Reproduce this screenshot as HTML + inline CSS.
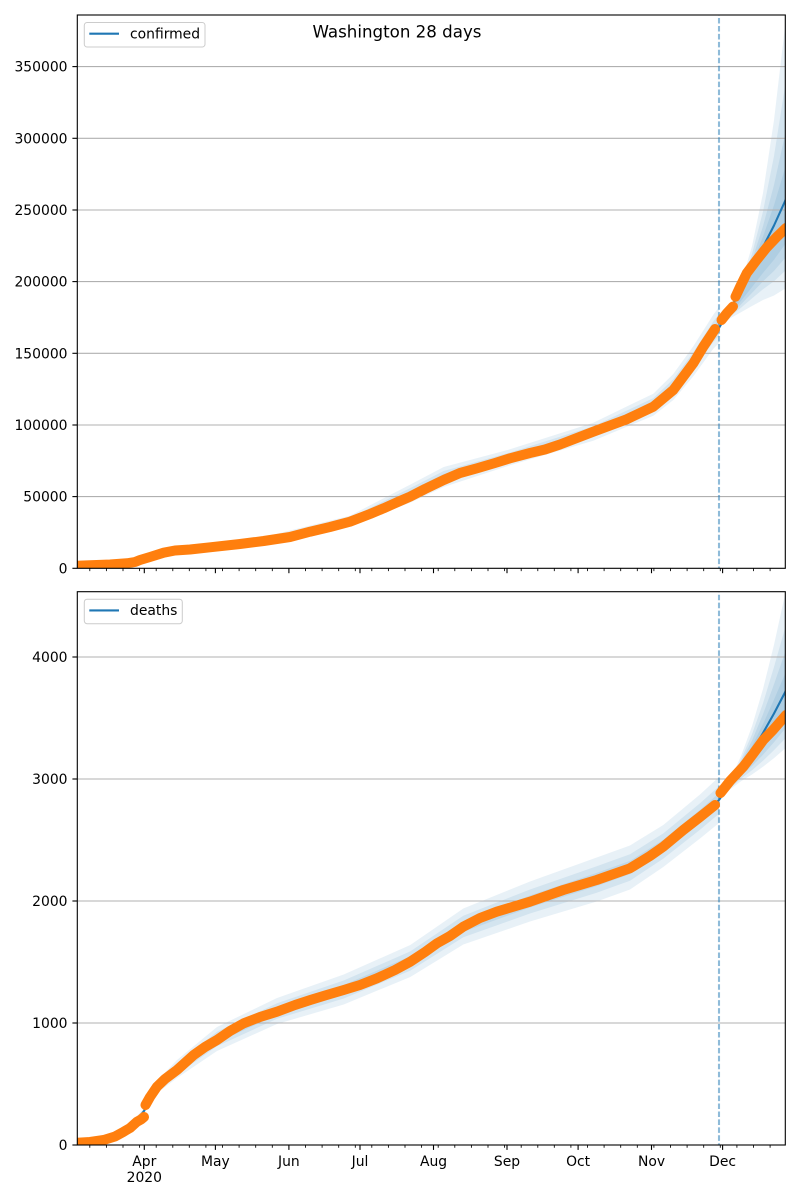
<!DOCTYPE html>
<html><head><meta charset="utf-8"><style>
html,body{margin:0;padding:0;background:#fff;}
svg{display:block;}
text{font-family:"DejaVu Sans","Liberation Sans",sans-serif;fill:#000;}
</style></head><body>
<svg width="800" height="1200" viewBox="0 0 800 1200" xmlns="http://www.w3.org/2000/svg">
<defs>
<clipPath id="c1"><rect x="77.3" y="15" width="708" height="553.3"/></clipPath>
<clipPath id="c2"><rect x="77.3" y="591.7" width="708" height="553.3"/></clipPath>
</defs>
<rect width="800" height="1200" fill="#fff"/>

<!-- ================= TOP AXES ================= -->
<g clip-path="url(#c1)">
 <g fill="#1f77b4" fill-opacity="0.1" stroke="none">
  <polygon points="77,563.7 140,557 163.7,549.7 263.7,537 350,515.7 410,484.7 443.7,467 510,449.3 593.3,422.7 653.3,393.7 673.3,374 693.3,346.3 713.3,314.7 719,307 719,343 713.3,348.7 693.3,376.3 673.3,400 653.3,415.7 593.3,440.7 510,465.3 443.7,487 410,502.7 350,525.7 263.7,545 163.7,555.7 140,563 77,567.7"/>
  <polygon points="77,564.5 140,558.2 163.7,550.9 263.7,538.6 350,517.7 410,488.3 443.7,471 510,452.5 593.3,426.3 653.3,398.1 673.3,379.2 693.3,352.3 713.3,321.5 719,314.2 719,335.8 713.3,341.9 693.3,370.3 673.3,394.8 653.3,411.3 593.3,437.1 510,462.1 443.7,483 410,499.1 350,523.7 263.7,543.4 163.7,554.5 140,561.8 77,566.9"/>
  <polygon points="77,565.1 140,559.1 163.7,551.8 263.7,539.8 350,519.2 410,491 443.7,474 510,454.9 593.3,429 653.3,401.4 673.3,383.1 693.3,356.8 713.3,326.6 719,319.6 719,330.4 713.3,336.8 693.3,365.8 673.3,390.9 653.3,408 593.3,434.4 510,459.7 443.7,480 410,496.4 350,522.2 263.7,542.2 163.7,553.6 140,560.9 77,566.3"/>
  <polygon points="719,328 730,308.2 741,283.3 752,246.2 763,193.1 774,120.1 786,18 786,288 774,295.5 763,300 752,306 741,312.3 730,318.4"/>
  <polygon points="719,328 730,308.4 741,285.6 752,254 763,211.5 774,156 786,80 786,270 774,281.2 763,289.2 752,298.4 741,307.7 730,316.5"/>
  <polygon points="719,328 730,308.7 741,287.4 752,260.2 763,226.3 774,185 786,130 786,257 774,270.9 763,281.4 752,292.9 741,304.4 730,315.1"/>
  <polygon points="719,328 730,308.8 741,288.7 752,264.6 763,236.6 774,205.2 786,165 786,243 774,259.7 763,272.9 752,287.1 741,300.9 730,313.6"/>
 </g>
 <g stroke="#b0b0b0" stroke-width="1.1">
  <line x1="77.3" x2="785.3" y1="496.6" y2="496.6"/>
  <line x1="77.3" x2="785.3" y1="425" y2="425"/>
  <line x1="77.3" x2="785.3" y1="353.3" y2="353.3"/>
  <line x1="77.3" x2="785.3" y1="281.6" y2="281.6"/>
  <line x1="77.3" x2="785.3" y1="210" y2="210"/>
  <line x1="77.3" x2="785.3" y1="138.3" y2="138.3"/>
  <line x1="77.3" x2="785.3" y1="66.6" y2="66.6"/>
 </g>
 <polyline fill="none" stroke="#1f77b4" stroke-width="2.1" stroke-linejoin="round" points="77,565.7 140,560 163.7,552.7 210,547.3 263.7,541 310,531.7 350,520.7 383.7,506.3 410,493.7 443.7,477 477,466.3 510,457.3 557,446.7 593.3,431.7 626.7,418.3 653.3,404.7 673.3,387 693.3,361.3 703.3,345.7 713.3,331.7 719,328 730,309 741,290 752,269 763,247 774,225.5 786,199"/>
 <line x1="719" x2="719" y1="15" y2="568.3" stroke="#1f77b4" stroke-opacity="0.5" stroke-width="2.1" stroke-dasharray="5.55 2.4" stroke-dashoffset="-3"/>
 <g fill="none" stroke="#ff7f0e" stroke-width="10" stroke-linecap="round" stroke-linejoin="round">
  <polyline points="77,565.7 90,565.3 110,564.5 127,563.3 135,562 140,560 150,557 163.7,552.7 175,550.5 190,549.5 210,547.3 240,544 263.7,541 290,537 310,531.7 330,527 350,521.7 370,514 383.7,508.3 400,501 410,496.7 425,489 443.7,480 460,473 477,468.3 495,463 510,458.3 530,453 545,449.5 560,444.5 593.3,431.7 626.7,419.3 653.3,406.7 673.3,390 693.3,363.3 703.3,346.7 713.3,331.7 715,329"/>
  <polyline points="721.5,320 727,313 733,306.5"/>
  <polyline points="735.5,296.7 740,287 746.7,273.3 756.7,260 766.7,247.5 776.7,237 786,228"/>
 </g>
</g>
<rect x="77.3" y="15" width="708" height="553.3" fill="none" stroke="#000" stroke-width="1.1"/>
<g stroke="#000" stroke-width="1.1">
 <line x1="72.4" x2="77.3" y1="568.3" y2="568.3"/>
 <line x1="72.4" x2="77.3" y1="496.6" y2="496.6"/>
 <line x1="72.4" x2="77.3" y1="425" y2="425"/>
 <line x1="72.4" x2="77.3" y1="353.3" y2="353.3"/>
 <line x1="72.4" x2="77.3" y1="281.6" y2="281.6"/>
 <line x1="72.4" x2="77.3" y1="210" y2="210"/>
 <line x1="72.4" x2="77.3" y1="138.3" y2="138.3"/>
 <line x1="72.4" x2="77.3" y1="66.6" y2="66.6"/>
</g>
<g font-size="13.9" text-anchor="end">
 <text x="67.5" y="573.3">0</text>
 <text x="67.5" y="501.6">50000</text>
 <text x="67.5" y="430">100000</text>
 <text x="67.5" y="358.3">150000</text>
 <text x="67.5" y="286.6">200000</text>
 <text x="67.5" y="215">250000</text>
 <text x="67.5" y="143.3">300000</text>
 <text x="67.5" y="71.6">350000</text>
</g>
<g stroke="#000" stroke-width="1.1">
 <line x1="144.3" x2="144.3" y1="568.3" y2="573.2"/>
 <line x1="215.4" x2="215.4" y1="568.3" y2="573.2"/>
 <line x1="288.9" x2="288.9" y1="568.3" y2="573.2"/>
 <line x1="360" x2="360" y1="568.3" y2="573.2"/>
 <line x1="433.5" x2="433.5" y1="568.3" y2="573.2"/>
 <line x1="507" x2="507" y1="568.3" y2="573.2"/>
 <line x1="578.1" x2="578.1" y1="568.3" y2="573.2"/>
 <line x1="651.5" x2="651.5" y1="568.3" y2="573.2"/>
 <line x1="722.6" x2="722.6" y1="568.3" y2="573.2"/>
</g>
<path stroke="#000" stroke-width="0.85" fill="none" d="M89.8 568.3v2.8M106.4 568.3v2.8M123 568.3v2.8M139.6 568.3v2.8M156.2 568.3v2.8M172.8 568.3v2.8M189.3 568.3v2.8M205.9 568.3v2.8M222.5 568.3v2.8M239.1 568.3v2.8M255.7 568.3v2.8M272.3 568.3v2.8M305.5 568.3v2.8M322.1 568.3v2.8M338.7 568.3v2.8M355.3 568.3v2.8M371.8 568.3v2.8M388.4 568.3v2.8M405 568.3v2.8M421.6 568.3v2.8M438.2 568.3v2.8M454.8 568.3v2.8M471.4 568.3v2.8M488 568.3v2.8M504.6 568.3v2.8M521.2 568.3v2.8M537.8 568.3v2.8M554.3 568.3v2.8M570.9 568.3v2.8M587.5 568.3v2.8M604.1 568.3v2.8M620.7 568.3v2.8M637.3 568.3v2.8M653.9 568.3v2.8M670.5 568.3v2.8M687.1 568.3v2.8M703.7 568.3v2.8M720.3 568.3v2.8M736.9 568.3v2.8M753.5 568.3v2.8M770.1 568.3v2.8"/>
<rect x="84.3" y="22.5" width="120.7" height="24.5" rx="2.8" fill="#fff" fill-opacity="0.8" stroke="#cccccc" stroke-width="1"/>
<line x1="89.3" x2="119" y1="33.7" y2="33.7" stroke="#1f77b4" stroke-width="2.1"/>
<text x="130" y="38.5" font-size="13.9">confirmed</text>

<text x="397" y="37.3" font-size="16.67" text-anchor="middle">Washington 28 days</text>

<!-- ================= BOTTOM AXES ================= -->
<g clip-path="url(#c2)">
 <g fill="#1f77b4" fill-opacity="0.1" stroke="none">
  <polygon points="77,1141 110,1135 130,1124 144,1108 157,1081 177,1060 217,1027 277,998 343.7,974.5 410.3,945 463.3,908.5 530,881.5 596.7,857.5 630,845.5 663.3,825 700,794.5 719,777 719,823 700,838.5 663.3,867 630,889.5 596.7,901.5 530,921.5 463.3,944.5 410.3,977 343.7,1004.5 277,1024 217,1051 177,1078 157,1093 144,1114 130,1132 110,1141 77,1145"/>
  <polygon points="77,1141.8 110,1136.2 130,1125.6 144,1109.2 157,1083.4 177,1063.6 217,1031.8 277,1003.2 343.7,980.5 410.3,951.4 463.3,915.7 530,889.5 596.7,866.3 630,854.3 663.3,833.4 700,803.3 719,786.2 719,813.8 700,829.7 663.3,858.6 630,880.7 596.7,892.7 530,913.5 463.3,937.3 410.3,970.6 343.7,998.5 277,1018.8 217,1046.2 177,1074.4 157,1090.6 144,1112.8 130,1130.4 110,1139.8 77,1144.2"/>
  <polygon points="77,1142.4 110,1137.1 130,1126.8 144,1110.1 157,1085.2 177,1066.3 217,1035.4 277,1007.1 343.7,985 410.3,956.2 463.3,921.1 530,895.5 596.7,872.9 630,860.9 663.3,839.7 700,809.9 719,793.1 719,806.9 700,823.1 663.3,852.3 630,874.1 596.7,886.1 530,907.5 463.3,931.9 410.3,965.8 343.7,994 277,1014.9 217,1042.6 177,1071.7 157,1088.8 144,1111.9 130,1129.2 110,1138.9 77,1143.6"/>
  <polygon points="719,800 730,780.7 741,756 752,726.2 763,689 774,644.8 786,590 786,747.7 774,758.1 763,766.8 752,774.5 741,781.2 730,789.5"/>
  <polygon points="719,800 730,781.6 741,759.6 752,734.2 763,703.2 774,667 786,624.7 786,737.7 774,750.1 763,760.7 752,770.3 741,778.6 730,788.4"/>
  <polygon points="719,800 730,782.3 741,762.3 752,740.5 763,714.3 774,684.3 786,649.7 786,727.7 774,742.2 763,754.7 752,766.1 741,776.1 730,787.4"/>
  <polygon points="719,800 730,782.9 741,764.8 752,746 763,724.1 774,699.6 786,671.7 786,713.7 774,731 763,746.3 752,760.2 741,772.6 730,785.9"/>
 </g>
 <g stroke="#b0b0b0" stroke-width="1.1">
  <line x1="77.3" x2="785.3" y1="1023" y2="1023"/>
  <line x1="77.3" x2="785.3" y1="901" y2="901"/>
  <line x1="77.3" x2="785.3" y1="779" y2="779"/>
  <line x1="77.3" x2="785.3" y1="657" y2="657"/>
 </g>
 <polyline fill="none" stroke="#1f77b4" stroke-width="2.1" stroke-linejoin="round" points="77,1143 110,1138 130,1128 144,1111 157,1087 177,1069 217,1039 277,1011 343.7,989.5 410.3,961 463.3,926.5 530,901.5 596.7,879.5 630,867.5 663.3,846 700,816.5 719,800 730,783.5 741,767 752,751 763,733 774,713.5 786,690.5"/>
 <line x1="719" x2="719" y1="591.7" y2="1145" stroke="#1f77b4" stroke-opacity="0.5" stroke-width="2.1" stroke-dasharray="5.55 2.4" stroke-dashoffset="-3"/>
 <g fill="none" stroke="#ff7f0e" stroke-width="10" stroke-linecap="round" stroke-linejoin="round">
  <polyline points="77,1142.7 90,1142 103.7,1140 115,1136.5 123.7,1131.7 130,1128 137,1121.7 141,1119.5 144,1117"/>
  <polyline points="145.5,1105 150,1097 157,1086.7 165,1079 177,1070 193.7,1055 205,1047 217,1040 230,1031 243.7,1023.3 260,1017 277,1011.7 295,1005 310.3,1000 325,995.5 343.7,990 360,985 377,978.3 395,970 410.3,961.7 425,952 437,943.3 450,936 463.3,926.7 480,918 496.7,911.7 530,901.7 563.3,890 596.7,880 630,868.3 650,856 663.3,846.7 683.3,830 700,817 715,805"/>
  <polyline points="720.5,793 730,781 743.3,766.7 753,754 763.3,740 773,730 786,715"/>
 </g>
</g>
<rect x="77.3" y="591.7" width="708" height="553.3" fill="none" stroke="#000" stroke-width="1.1"/>
<g stroke="#000" stroke-width="1.1">
 <line x1="72.4" x2="77.3" y1="1145" y2="1145"/>
 <line x1="72.4" x2="77.3" y1="1023" y2="1023"/>
 <line x1="72.4" x2="77.3" y1="901" y2="901"/>
 <line x1="72.4" x2="77.3" y1="779" y2="779"/>
 <line x1="72.4" x2="77.3" y1="657" y2="657"/>
</g>
<g font-size="13.9" text-anchor="end">
 <text x="67.5" y="1150">0</text>
 <text x="67.5" y="1028">1000</text>
 <text x="67.5" y="906">2000</text>
 <text x="67.5" y="784">3000</text>
 <text x="67.5" y="662">4000</text>
</g>
<g stroke="#000" stroke-width="1.1">
 <line x1="144.3" x2="144.3" y1="1145" y2="1149.9"/>
 <line x1="215.4" x2="215.4" y1="1145" y2="1149.9"/>
 <line x1="288.9" x2="288.9" y1="1145" y2="1149.9"/>
 <line x1="360" x2="360" y1="1145" y2="1149.9"/>
 <line x1="433.5" x2="433.5" y1="1145" y2="1149.9"/>
 <line x1="507" x2="507" y1="1145" y2="1149.9"/>
 <line x1="578.1" x2="578.1" y1="1145" y2="1149.9"/>
 <line x1="651.5" x2="651.5" y1="1145" y2="1149.9"/>
 <line x1="722.6" x2="722.6" y1="1145" y2="1149.9"/>
</g>
<path stroke="#000" stroke-width="0.85" fill="none" d="M89.8 1145v2.8M106.4 1145v2.8M123 1145v2.8M139.6 1145v2.8M156.2 1145v2.8M172.8 1145v2.8M189.3 1145v2.8M205.9 1145v2.8M222.5 1145v2.8M239.1 1145v2.8M255.7 1145v2.8M272.3 1145v2.8M305.5 1145v2.8M322.1 1145v2.8M338.7 1145v2.8M355.3 1145v2.8M371.8 1145v2.8M388.4 1145v2.8M405 1145v2.8M421.6 1145v2.8M438.2 1145v2.8M454.8 1145v2.8M471.4 1145v2.8M488 1145v2.8M504.6 1145v2.8M521.2 1145v2.8M537.8 1145v2.8M554.3 1145v2.8M570.9 1145v2.8M587.5 1145v2.8M604.1 1145v2.8M620.7 1145v2.8M637.3 1145v2.8M653.9 1145v2.8M670.5 1145v2.8M687.1 1145v2.8M703.7 1145v2.8M720.3 1145v2.8M736.9 1145v2.8M753.5 1145v2.8M770.1 1145v2.8"/>
<g font-size="13.9" text-anchor="middle">
 <text x="144.3" y="1166">Apr</text>
 <text x="144.3" y="1182">2020</text>
 <text x="215.4" y="1166">May</text>
 <text x="288.9" y="1166">Jun</text>
 <text x="360" y="1166">Jul</text>
 <text x="433.5" y="1166">Aug</text>
 <text x="507" y="1166">Sep</text>
 <text x="578.1" y="1166">Oct</text>
 <text x="651.5" y="1166">Nov</text>
 <text x="722.6" y="1166">Dec</text>
</g>
<rect x="84.3" y="599.2" width="98" height="24.5" rx="2.8" fill="#fff" fill-opacity="0.8" stroke="#cccccc" stroke-width="1"/>
<line x1="89.3" x2="119" y1="610.4" y2="610.4" stroke="#1f77b4" stroke-width="2.1"/>
<text x="130" y="615.2" font-size="13.9">deaths</text>
</svg>
</body></html>
